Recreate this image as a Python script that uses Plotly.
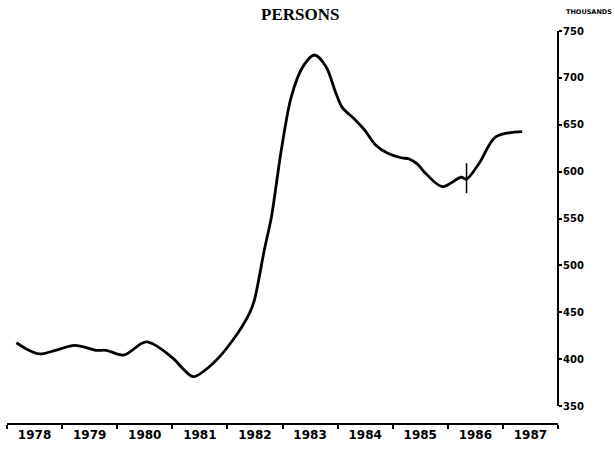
import plotly.graph_objects as go

# Data (x in fractional years, y in thousands of persons)
years = [1978.17, 1978.39, 1978.6, 1978.9, 1979.23, 1979.62, 1979.8, 1980.12,
         1980.53, 1981.01, 1981.19, 1981.38, 1981.74, 1982.1, 1982.4, 1982.49,
         1982.67, 1982.8, 1982.89, 1982.98, 1983.16, 1983.37, 1983.58,
         1983.79, 1983.97, 1984.09, 1984.3, 1984.49, 1984.69, 1984.91, 1985.15,
         1985.3, 1985.45, 1985.6, 1985.9, 1986.24, 1986.34, 1986.57, 1986.87,
         1987.35]
persons = [417.5, 409.7, 405.5, 409.7, 414.7, 409.4, 409.4, 404.4,
           418.3, 401.0, 390.0, 381.3, 395.5, 420.4, 448.9, 463.0,
           516.4, 552.0, 587.5, 623.6, 680.0, 712.0, 724.4,
           712.0, 683.5, 668.0, 656.5, 644.4, 628.4, 619.5, 614.8,
           613.5, 608.0, 598.0, 584.0, 594.0, 592.0, 609.0, 637.0,
           642.6]

break_x = [1986.34, 1986.34]
break_y = [577, 609]

year_labels = ["1978", "1979", "1980", "1981", "1982", "1983", "1984", "1985", "1986", "1987"]
year_starts = list(range(1978, 1989))
label_pos = [y + 0.5 for y in range(1978, 1988)]
y_ticks = [350, 400, 450, 500, 550, 600, 650, 700, 750]

W, H = 615, 452
plot_left, plot_right, plot_top, plot_bottom = 7, 558, 31, 424
y350_px = 406

fig = go.Figure()
fig.add_trace(go.Scatter(x=years, y=persons, mode="lines",
                         line=dict(color="black", width=2.8, shape="spline", smoothing=0.9),
                         hoverinfo="skip", showlegend=False))
fig.add_trace(go.Scatter(x=break_x, y=break_y, mode="lines",
                         line=dict(color="black", width=1.5),
                         hoverinfo="skip", showlegend=False))

plot_h = plot_bottom - plot_top
plot_w = plot_right - plot_left
fig.update_layout(
    width=W, height=H,
    margin=dict(l=plot_left, r=W - plot_right, t=plot_top, b=H - plot_bottom, autoexpand=False),
    paper_bgcolor="white", plot_bgcolor="white",
    showlegend=False,
    xaxis=dict(range=[1978, 1988], anchor="free", position=0,
               showgrid=False, zeroline=False, showline=True, linecolor="black", linewidth=2,
               tickvals=label_pos, ticktext=year_labels, ticks="",
               tickfont=dict(family="DejaVu Sans", size=12, color="black", weight="bold"),
               minor=dict(tickvals=year_starts, ticks="outside", ticklen=4, tickwidth=2, tickcolor="black")),
    yaxis=dict(range=[350, 750], domain=[(plot_bottom - y350_px) / plot_h, 1],
               side="right", anchor="free", position=1,
               showgrid=False, zeroline=False, showline=True, linecolor="black", linewidth=2,
               tickvals=y_ticks, ticks="outside", ticklen=3, tickwidth=2, tickcolor="black",
               ticklabelstandoff=-1,
               tickfont=dict(family="DejaVu Sans", size=10, color="black", weight="bold")),
    annotations=[
        dict(text="PERSONS", xref="paper", yref="paper", x=(300 - plot_left) / plot_w,
             y=1 + 17 / plot_h, showarrow=False, xanchor="center", yanchor="middle",
             font=dict(family="Liberation Serif", size=17, color="black", weight="bold")),
        dict(text="THOUSANDS", xref="paper", yref="paper", x=(614 - plot_left) / plot_w,
             y=1 + 19 / plot_h, showarrow=False, xanchor="right", yanchor="middle",
             font=dict(family="DejaVu Sans", size=6.5, color="black", weight="bold")),
    ],
)

fig.write_html("out.html", config={"displayModeBar": False},
               post_script="document.body.style.margin='0';")
